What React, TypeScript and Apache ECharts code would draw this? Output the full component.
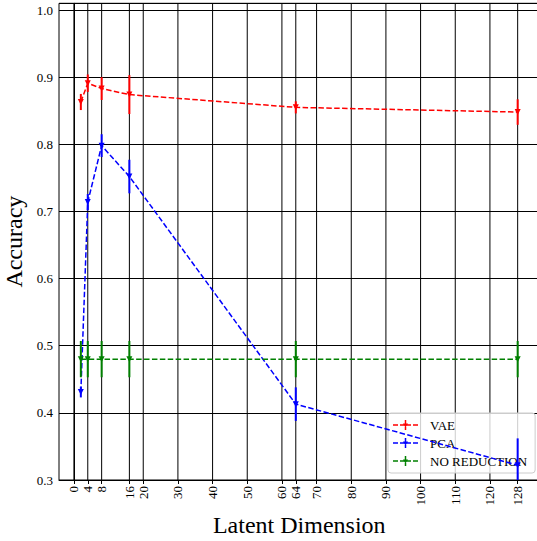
import React, { useEffect, useRef } from "react";
import * as echarts from "echarts";

const xTicks = [0, 4, 8, 16, 20, 30, 40, 50, 60, 64, 70, 80, 90, 100, 110, 120, 128];
const dims = [2, 4, 8, 16, 64, 128];
const seriesNames = ["VAE", "PCA", "NO REDUCTION"];
const seriesColors = ["#ff0000", "#0000ff", "#008000"];
const vaeAcc = [0.863, 0.891, 0.883, 0.874, 0.855, 0.848];
const vaeErr = [0.012, 0.013, 0.017, 0.029, 0.009, 0.019];
const pcaAcc = [0.431, 0.714, 0.798, 0.752, 0.413, 0.322];
const pcaErr = [0.008, 0.012, 0.017, 0.025, 0.025, 0.04];
const nrAcc = [0.48, 0.48, 0.48, 0.48, 0.48, 0.48];
const nrErr = [0.027, 0.027, 0.027, 0.027, 0.027, 0.027];

const yMin = 0.3;
const yMax = 1.01;
const xMin = -4.3;
const xMax = 134.3;

const FONT = "Liberation Serif";

const legendIcon =
  "path://M0,4.25h5v1.5h-5z M7,4.25h4.5v1.5h-4.5z M13.5,4.25h4.5v1.5h-4.5z M20,4.25h5v1.5h-5z M11.75,0h1.5v10h-1.5z M10,3.5L15,3.5L12.5,7.5z";

export default function App() {
  const ref = useRef<HTMLDivElement>(null);
  useEffect(() => {
    if (!ref.current) return;
    const chart = echarts.init(ref.current, null, { renderer: "svg" });
    const accs = [vaeAcc, pcaAcc, nrAcc];
    const errs = [vaeErr, pcaErr, nrErr];

    const series: any[] = [
      {
        type: "custom",
        name: "vgrid",
        z: 1,
        silent: true,
        data: xTicks.map((v) => [v, yMin]),
        renderItem: (params: any, api: any) => {
          const p = api.coord([api.value(0), yMin]);
          const cs = params.coordSys;
          return {
            type: "line",
            shape: { x1: p[0], y1: cs.y, x2: p[0], y2: cs.y + cs.height },
            style: { stroke: "#000", lineWidth: 1 },
          };
        },
      },
    ];

    seriesNames.forEach((name, k) => {
      const color = seriesColors[k];
      series.push({
        type: "line",
        name,
        z: 3 + k * 2,
        data: dims.map((d, i) => [d, accs[k][i]]),
        symbol: "triangle",
        symbolRotate: 180,
        symbolSize: 6,
        itemStyle: { color, borderWidth: 0 },
        lineStyle: { color, width: 1.5, type: [5.5, 2.4] },
      });
      series.push({
        type: "custom",
        name: name + " err",
        z: 3 + k * 2,
        silent: true,
        data: dims.map((d, i) => [d, accs[k][i], errs[k][i]]),
        encode: { x: 0, y: 1 },
        renderItem: (params: any, api: any) => {
          const x = api.value(0);
          const y = api.value(1);
          const e = api.value(2);
          const top = api.coord([x, y + e]);
          const bot = api.coord([x, y - e]);
          const cs = params.coordSys;
          const clamp = (v: number) => Math.max(cs.y, Math.min(cs.y + cs.height, v));
          return {
            type: "line",
            shape: { x1: top[0], y1: clamp(top[1]), x2: bot[0], y2: clamp(bot[1]) },
            style: { stroke: color, lineWidth: 2 },
          };
        },
      });
    });

    chart.setOption({
      animation: false,
      backgroundColor: "#fff",
      grid: {
        left: 59,
        right: -2.5,
        top: 3.3,
        bottom: 61,
        show: true,
        borderColor: "#000",
        borderWidth: 1,
        containLabel: false,
        outerBoundsMode: "none",
      },
      legend: {
        orient: "vertical",
        left: 388,
        top: 413,
        padding: [5, 8, 5, 5],
        itemGap: 4,
        itemWidth: 25,
        itemHeight: 10,
        backgroundColor: "rgba(255,255,255,0.8)",
        borderColor: "#cccccc",
        borderWidth: 1,
        borderRadius: 3,
        textStyle: {
          fontFamily: FONT,
          fontSize: 13,
          color: "#000",
          lineHeight: 14,
          padding: [0, 0, 0, 7],
        },
        data: seriesNames.map((n, k) => ({
          name: n,
          icon: legendIcon,
          itemStyle: { color: seriesColors[k], borderWidth: 0 },
        })),
      },
      xAxis: {
        type: "value",
        min: xMin,
        max: xMax,
        name: "Latent Dimension",
        nameLocation: "middle",
        nameGap: 28,
        nameTextStyle: { fontFamily: FONT, fontSize: 24, color: "#000" },
        axisLine: { show: true, lineStyle: { color: "#000", width: 1 } },
        axisTick: {
          show: true,
          customValues: xTicks,
          length: 4,
          lineStyle: { color: "#000" },
        },
        axisLabel: {
          customValues: xTicks,
          rotate: 90,
          margin: 6,
          fontFamily: FONT,
          fontSize: 13,
          color: "#000",
        },
        splitLine: { show: false },
      },
      yAxis: {
        type: "value",
        min: yMin,
        max: yMax,
        interval: 0.1,
        name: "Accuracy",
        nameLocation: "middle",
        nameGap: 26,
        nameTextStyle: { fontFamily: FONT, fontSize: 24, color: "#000" },
        axisLine: { show: true, lineStyle: { color: "#000", width: 1 } },
        axisTick: { show: true, length: 4, lineStyle: { color: "#000" } },
        axisLabel: {
          showMaxLabel: false,
          formatter: (v: number) => v.toFixed(1),
          margin: 6,
          fontFamily: FONT,
          fontSize: 13,
          color: "#000",
        },
        splitLine: { show: true, lineStyle: { color: "#000", width: 1 } },
      },
      series,
    });
    return () => chart.dispose();
  }, []);
  return (
    <div
      ref={ref}
      style={{ position: "fixed", left: 0, top: 0, width: 537, height: 541, background: "#fff" }}
    />
  );
}
